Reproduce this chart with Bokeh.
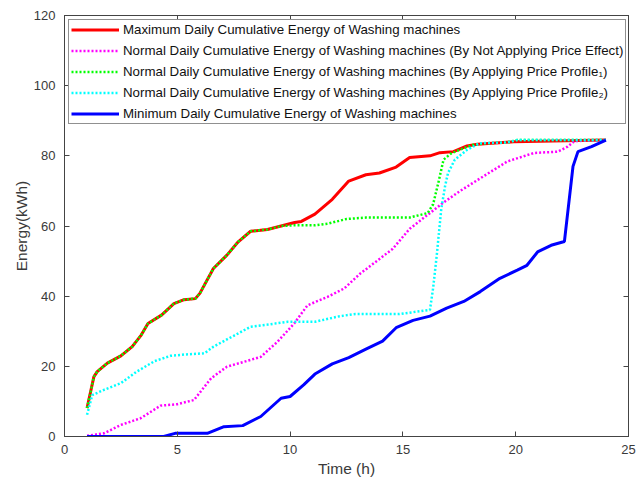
from bokeh.plotting import figure
from bokeh.models import Range1d, LinearAxis, Legend, LegendItem, FixedTicker
from bokeh.embed import file_html
from bokeh.resources import INLINE

# Cumulative daily energy of washing machines (kWh) against time of day (h)
t_max = [1.0, 1.3, 1.45, 1.9, 2.5, 3.0, 3.4, 3.7, 4.3, 4.85, 5.3, 5.8, 6.0, 6.6, 7.2,
         7.7, 8.25, 9.0, 9.6, 10.2, 10.5, 11.1, 11.87, 12.6, 13.36, 13.96, 14.7, 15.3,
         16.2, 16.64, 17.24, 17.84, 18.3, 19.9, 24.0]
e_max = [8.1, 17.0, 18.5, 20.9, 23.0, 25.6, 28.9, 32.2, 34.6, 37.9, 39.0, 39.3, 40.8, 47.9,
         51.7, 55.5, 58.5, 59.0, 60.0, 61.0, 61.3, 63.4, 67.6, 72.8, 74.6, 75.1, 76.8, 79.5,
         80.0, 80.9, 81.2, 82.8, 83.3, 84.0, 84.5]

t_norm = [1.0, 1.75, 2.5, 3.37, 4.26, 5.0, 5.74, 6.5, 7.2, 7.96, 8.7, 9.44, 10.18, 10.77,
          11.66, 12.4, 13.1, 13.8, 14.55, 15.3, 16.04, 16.8, 17.54, 18.58, 19.63, 20.8,
          21.87, 22.3, 22.6, 24.0]
e_norm = [0.2, 0.9, 3.3, 5.2, 8.8, 9.2, 10.4, 16.6, 19.9, 21.3, 22.7, 27.0, 32.2, 37.4,
          39.8, 42.2, 46.4, 49.8, 53.5, 59.2, 62.9, 66.7, 70.0, 74.2, 78.4, 80.8,
          81.2, 82.6, 84.2, 84.5]

t_prof1 = [1.0, 1.3, 1.45, 1.9, 2.5, 3.0, 3.4, 3.7, 4.3, 4.85, 5.3, 5.8, 6.0, 6.6, 7.2,
           7.7, 8.25, 9.0, 9.6, 10.2, 11.1, 11.7, 12.5, 13.36, 15.3, 16.1, 16.34, 16.57,
           16.8, 17.16, 17.7, 18.1, 18.7, 19.6, 20.07, 24.0]
e_prof1 = [8.1, 17.0, 18.5, 20.9, 23.0, 25.6, 28.9, 32.2, 34.6, 37.9, 39.0, 39.3, 40.8, 47.9,
           51.7, 55.5, 58.5, 59.0, 60.0, 60.2, 60.2, 60.7, 62.0, 62.4, 62.4, 63.7, 66.2, 72.3,
           78.9, 80.8, 82.2, 83.1, 83.6, 83.8, 84.5, 84.5]

t_prof2 = [1.0, 1.23, 1.75, 2.5, 3.2, 4.0, 4.7, 5.4, 6.2, 6.6, 7.5, 8.25, 9.0, 9.9, 11.1,
           12.2, 12.9, 14.85, 16.2, 16.34, 16.5, 16.7, 16.87, 17.0, 17.3, 17.84, 18.4,
           19.6, 20.07, 24.0]
e_prof2 = [6.2, 11.8, 13.3, 15.2, 18.5, 21.5, 23.0, 23.4, 23.7, 25.6, 28.7, 31.3, 31.9, 32.7,
           32.7, 34.3, 34.9, 34.9, 36.1, 42.3, 51.6, 64.8, 71.4, 75.1, 78.9, 81.7, 83.6,
           83.8, 84.5, 84.5]

t_min = [1.0, 4.4, 4.9, 6.33, 7.07, 7.9, 8.7, 9.6, 10.0, 10.6, 11.1, 11.87, 12.6, 13.36,
         14.1, 14.7, 15.45, 16.2, 16.94, 17.7, 18.43, 19.3, 20.07, 20.5, 20.97, 21.57,
         22.16, 22.54, 22.76, 23.36, 24.0]
e_min = [0.0, 0.0, 0.9, 0.9, 2.8, 3.1, 5.7, 10.9, 11.4, 14.7, 17.8, 20.7, 22.5, 24.9,
         27.2, 31.0, 33.1, 34.3, 36.6, 38.5, 41.3, 45.1, 47.4, 48.8, 52.6, 54.5,
         55.6, 77.0, 81.2, 82.6, 84.5]

labels = [
    "Maximum Daily Cumulative Energy of Washing machines",
    "Normal Daily Cumulative Energy of Washing machines (By Not Applying Price Effect)",
    "Normal Daily Cumulative Energy of Washing machines (By Applying Price Profile\u2081)",
    "Normal Daily Cumulative Energy of Washing machines (By Applying Price Profile\u2082)",
    "Minimum Daily Cumulative Energy of Washing machines",
]

x_ticks = [0, 5, 10, 15, 20, 25]
y_ticks = [0, 20, 40, 60, 80, 100, 120]

FONT = "Liberation Sans"
AXIS_COLOR = "#444444"
TEXT_COLOR = "#3a3a3a"

p = figure(width=636, height=482, output_backend="svg", toolbar_location=None,
           x_range=Range1d(0, 25), y_range=Range1d(0, 120),
           min_border_left=64, min_border_right=8, min_border_top=15,
           min_border_bottom=46)
p.grid.visible = False
p.outline_line_color = AXIS_COLOR
p.outline_line_width = 1


def style_axis(ax, show_labels=True):
    ax.major_tick_in = 5
    ax.major_tick_out = 0
    ax.minor_tick_line_color = None
    ax.axis_line_color = AXIS_COLOR
    ax.major_tick_line_color = AXIS_COLOR
    ax.major_label_text_font = FONT
    ax.major_label_text_font_size = "13px"
    ax.major_label_text_color = TEXT_COLOR
    ax.axis_label_text_font = FONT
    ax.axis_label_text_font_size = "15.5px"
    ax.axis_label_text_font_style = "normal"
    ax.axis_label_text_color = TEXT_COLOR
    if not show_labels:
        # frame-only axis: ticks, no numbers
        ax.major_label_text_color = None
        ax.major_label_text_font_size = "1px"
        ax.major_label_standoff = 0


p.xaxis.ticker = FixedTicker(ticks=x_ticks)
p.yaxis.ticker = FixedTicker(ticks=y_ticks)
style_axis(p.xaxis[0])
style_axis(p.yaxis[0])
p.xaxis.axis_label = "Time (h)"
p.yaxis.axis_label = "Energy(kWh)"
p.xaxis.major_label_standoff = 8
p.xaxis.axis_label_standoff = 3
p.yaxis.major_label_standoff = 9
p.yaxis.axis_label_standoff = 1

# Box-style axes with inward ticks on top and right
top_ax = LinearAxis(ticker=FixedTicker(ticks=x_ticks))
right_ax = LinearAxis(ticker=FixedTicker(ticks=y_ticks))
style_axis(top_ax, show_labels=False)
style_axis(right_ax, show_labels=False)
p.add_layout(top_ax, "above")
p.add_layout(right_ax, "right")

r_max = p.line(t_max, e_max, line_color="#ff0000", line_width=3)
r_norm = p.line(t_norm, e_norm, line_color="#ff00ff", line_width=2.5, line_dash="2 2")
r_p1 = p.line(t_prof1, e_prof1, line_color="#00ff00", line_width=2.5, line_dash="2 2")
r_p2 = p.line(t_prof2, e_prof2, line_color="#00ffff", line_width=2.5, line_dash="2 2")
r_min = p.line(t_min, e_min, line_color="#0000ff", line_width=3)

legend = Legend(items=[LegendItem(label=l, renderers=[r])
                       for l, r in zip(labels, [r_max, r_norm, r_p1, r_p2, r_min])],
                location="top_left")
legend.margin = 4
legend.padding = 2
legend.spacing = 6
legend.label_height = 15
legend.glyph_height = 15
legend.glyph_width = 48
legend.label_standoff = 4
legend.label_text_font = FONT
legend.label_text_font_size = "13.3px"
legend.label_text_color = "#111111"
legend.border_line_color = "#222222"
legend.border_line_width = 1
legend.background_fill_alpha = 1
p.add_layout(legend, "center")

open("out.html", "w").write(file_html(p, INLINE))
